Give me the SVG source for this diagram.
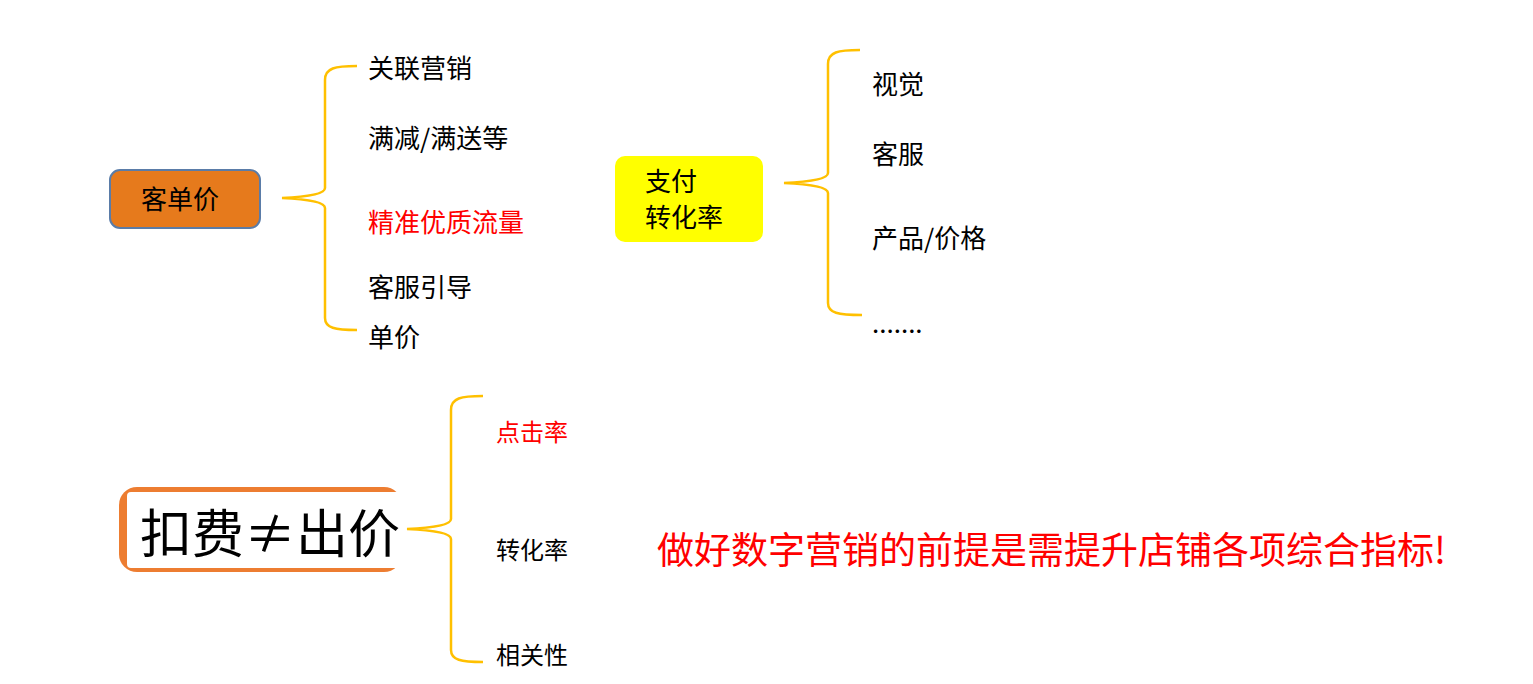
<svg xmlns="http://www.w3.org/2000/svg" width="1533" height="684" viewBox="0 0 1533 684">
<style>
text{font-family:"Noto Sans CJK SC","Noto Sans",sans-serif;fill:#000}
.t{font-size:26px}
.s{font-size:24px}
.r{fill:#ff0000}
.b{fill:none;stroke:#ffc000;stroke-width:2.5}
</style>
<rect width="1533" height="684" fill="#fff"/>
<g id="connectors">
<path class="b" d="M357,66 C335,66 325,68 325,80 L325,188 Q325,196 282,198 Q325,200 325,208 L325,318 C325,328 335,330 357,330"/>
<path class="b" d="M860,50 C838,50 828,52 828,64 L828,173 Q828,181 784,183 Q828,185 828,193 L828,303 C828,313 838,315 862,315"/>
<path class="b" d="M483,396 C461,396 451,398 451,410 L451,519 Q451,527 407,529 Q451,531 451,539 L451,650 C451,660 461,662 483,662"/>
</g>
<g id="n1"><rect x="110" y="170" width="150" height="58" rx="10" fill="#e67a1c" stroke="#5a7ca8" stroke-width="2"/><text class="t" x="141" y="209">客单价</text></g>
<g id="n2"><text class="t" x="368" y="78">关联营销</text></g>
<g id="n3"><text class="t" x="368" y="148">满减/满送等</text></g>
<g id="n4"><text class="t r" x="368" y="232">精准优质流量</text></g>
<g id="n5"><text class="t" x="368" y="297">客服引导</text></g>
<g id="n6"><text class="t" x="368" y="347">单价</text></g>
<g id="n7"><rect x="615" y="156" width="148" height="86" rx="10" fill="#ffff00"/><text class="t" x="645" y="191">支付</text><text class="t" x="645" y="227">转化率</text></g>
<g id="n8"><text class="t" x="872" y="94">视觉</text></g>
<g id="n9"><text class="t" x="872" y="164">客服</text></g>
<g id="n10"><text class="t" x="872" y="248">产品/价格</text></g>
<g id="n11"><text class="t" x="872" y="333">.......</text></g>
<g id="n12"><rect x="119" y="487" width="283" height="85" rx="18" fill="#ed7d31"/><rect x="127" y="492" width="275" height="76" rx="4" fill="#fff"/><text x="140" y="553" style="font-size:52px">扣费≠出价</text></g>
<g id="n13"><text class="s r" x="496" y="441">点击率</text></g>
<g id="n14"><text class="s" x="496" y="559">转化率</text></g>
<g id="n15"><text class="s" x="496" y="664">相关性</text></g>
<text class="r" x="657" y="564" style="font-size:37px">做好数字营销的前提是需提升店铺各项综合指标!</text>
</svg>
